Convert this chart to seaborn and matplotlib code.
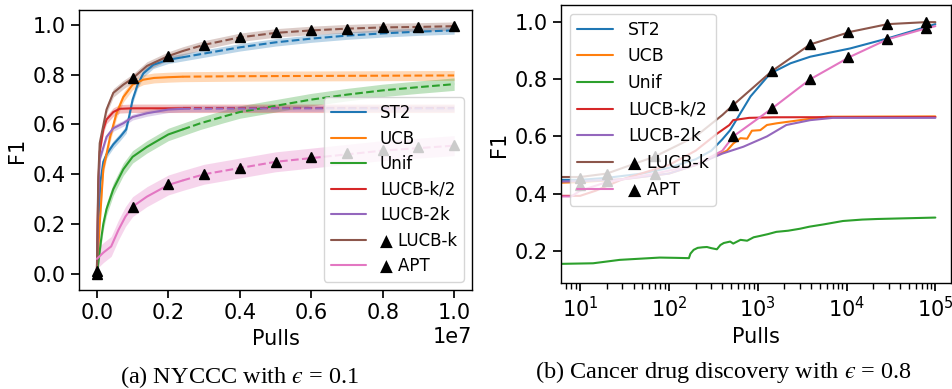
import matplotlib
matplotlib.use("Agg")
import numpy as np
import matplotlib.pyplot as plt
from matplotlib.lines import Line2D
import seaborn as sns

sns.set_theme(style="ticks", palette="tab10")
plt.rcParams['font.family'] = ['DejaVu Sans']
plt.rcParams.update({'text.color': 'black', 'axes.labelcolor': 'black',
                     'xtick.color': 'black', 'ytick.color': 'black'})

methods = ['ST2', 'UCB', 'Unif', 'LUCB-k/2', 'LUCB-2k', 'LUCB-k', 'APT']
legend_labels = ['ST2', 'UCB', 'Unif', 'LUCB-k/2', 'LUCB-2k', '▲ LUCB-k', '▲ APT']
colors = sns.color_palette("tab10", 7)

# ---- (a) NYCCC, pulls in units of 1e7 ----
nyc_st2_x = [0, 0.004, 0.01, 0.018, 0.027, 0.046, 0.065, 0.082, 0.09, 0.1, 0.114, 0.13, 0.158, 0.2, 0.24,
             0.3, 0.4, 0.5, 0.6, 0.7, 0.8, 0.9, 1.0]
nyc_st2_y = [0, 0.2, 0.37, 0.45, 0.48, 0.52, 0.55, 0.58, 0.63, 0.7, 0.76, 0.805, 0.84, 0.86, 0.87,
             0.885, 0.91, 0.93, 0.945, 0.957, 0.966, 0.973, 0.978]
nyc_ucb_x = [0, 0.008, 0.018, 0.037, 0.055, 0.074, 0.1, 0.13, 0.16, 0.2, 0.24, 0.4, 0.6, 0.8, 1.0]
nyc_ucb_y = [0, 0.2, 0.42, 0.55, 0.645, 0.71, 0.76, 0.78, 0.787, 0.79, 0.792, 0.794, 0.795, 0.796, 0.797]
nyc_unif_x = [0, 0.004, 0.013, 0.018, 0.027, 0.046, 0.074, 0.1, 0.14, 0.2, 0.24, 0.29, 0.35, 0.4, 0.5,
              0.6, 0.7, 0.8, 0.9, 1.0]
nyc_unif_y = [0.0, 0.045, 0.15, 0.2, 0.26, 0.34, 0.42, 0.47, 0.51, 0.56, 0.58, 0.605, 0.63, 0.65, 0.675,
              0.7, 0.72, 0.737, 0.75, 0.762]
nyc_k2_x = [0, 0.004, 0.008, 0.018, 0.027, 0.046, 0.064, 0.1, 0.24, 0.5, 1.0]
nyc_k2_y = [0, 0.35, 0.49, 0.58, 0.62, 0.65, 0.663, 0.665, 0.665, 0.665, 0.665]
nyc_2k_x = [0, 0.004, 0.008, 0.027, 0.046, 0.074, 0.1, 0.14, 0.2, 0.24, 0.5, 1.0]
nyc_2k_y = [0, 0.3, 0.46, 0.55, 0.585, 0.605, 0.63, 0.645, 0.66, 0.663, 0.665, 0.665]
nyc_k_x = [0, 0.004, 0.008, 0.027, 0.046, 0.074, 0.1, 0.14, 0.2, 0.24, 0.3, 0.4, 0.5, 0.6, 0.7, 0.8, 0.9, 1.0]
nyc_k_y = [0.01, 0.39, 0.525, 0.66, 0.727, 0.76, 0.785, 0.835, 0.875, 0.895, 0.92, 0.95, 0.968, 0.978,
           0.985, 0.99, 0.992, 0.995]
nyc_apt_x = [0, 0.018, 0.04, 0.06, 0.08, 0.1, 0.14, 0.2, 0.24, 0.3, 0.4, 0.5, 0.6, 0.7, 0.8, 0.9, 1.0]
nyc_apt_y = [0.06, 0.085, 0.11, 0.175, 0.23, 0.27, 0.31, 0.357, 0.375, 0.4, 0.425, 0.45, 0.465, 0.48,
             0.495, 0.505, 0.515]
nyc_band = [0.015, 0.02, 0.025, 0.017, 0.012, 0.017, 0.04]

nyc_marker_x = [0, 0.1, 0.2, 0.3, 0.4, 0.5, 0.6, 0.7, 0.8, 0.9, 1.0]
nyc_k_marker_y = [0.01, 0.785, 0.875, 0.92, 0.95, 0.97, 0.98, 0.985, 0.99, 0.99, 0.995]
nyc_apt_marker_y = [0.0, 0.27, 0.36, 0.4, 0.425, 0.45, 0.468, 0.485, 0.498, 0.508, 0.517]
nyc_solid_end = 0.24

# ---- (b) Cancer drug discovery ----
cd_st2_x = [6.1, 10, 20, 50, 100, 200, 300, 400, 490, 830, 1380, 2340, 3900, 1.1e4, 2.9e4, 1e5]
cd_st2_y = [0.448, 0.448, 0.455, 0.47, 0.49, 0.52, 0.55, 0.59, 0.622, 0.74, 0.82, 0.856, 0.879, 0.908,
            0.943, 0.993]
cd_ucb_x = [6.1, 10, 30, 100, 200, 450, 530, 640, 760, 860, 1070, 1270, 1640, 3000, 6000, 1e5]
cd_ucb_y = [0.438, 0.44, 0.45, 0.47, 0.5, 0.55, 0.575, 0.594, 0.592, 0.62, 0.622, 0.64, 0.646, 0.657,
            0.669, 0.67]
cd_unif_x = [6.1, 14, 28, 79, 120, 168, 175, 190, 211, 240, 268, 300, 347, 380, 415, 490, 530, 640, 760,
             900, 1070, 1300, 1620, 2200, 3000, 3800, 5500, 9100, 1.5e4, 2.2e4, 4e4, 1e5]
cd_unif_y = [0.154, 0.156, 0.168, 0.176, 0.175, 0.174, 0.19, 0.203, 0.21, 0.212, 0.213, 0.209, 0.205,
             0.22, 0.227, 0.232, 0.225, 0.238, 0.235, 0.247, 0.252, 0.258, 0.266, 0.27, 0.277, 0.284,
             0.292, 0.304, 0.309, 0.311, 0.313, 0.316]
cd_k2_x = [6.1, 10, 15, 30, 100, 200, 350, 480, 530, 800, 1500, 1e5]
cd_k2_y = [0.392, 0.392, 0.41, 0.45, 0.5, 0.55, 0.61, 0.64, 0.657, 0.665, 0.667, 0.668]
cd_2k_x = [6.1, 10, 30, 100, 200, 400, 690, 1270, 2100, 3900, 7000, 1e5]
cd_2k_y = [0.442, 0.443, 0.45, 0.47, 0.5, 0.54, 0.564, 0.6, 0.64, 0.657, 0.665, 0.665]
cd_k_x = [6.1, 10, 20, 70, 200, 400, 530, 1450, 3900, 1.1e4, 2.9e4, 7.8e4, 1e5]
cd_k_y = [0.458, 0.458, 0.47, 0.53, 0.6, 0.675, 0.71, 0.829, 0.922, 0.966, 0.993, 1.0, 1.0]
cd_apt_x = [6.1, 8, 10, 20, 70, 200, 400, 530, 1450, 3900, 1.1e4, 2.9e4, 7.8e4, 1e5]
cd_apt_y = [0.39, 0.39, 0.41, 0.44, 0.47, 0.5, 0.55, 0.6, 0.698, 0.8, 0.879, 0.94, 0.978, 0.986]

cd_marker_x = [10, 20, 70, 530, 1430, 3860, 1.05e4, 2.85e4, 7.8e4]
cd_k_marker_y = [0.455, 0.47, 0.53, 0.71, 0.829, 0.922, 0.966, 0.993, 1.0]
cd_apt_marker_y = [0.43, 0.445, 0.47, 0.60, 0.698, 0.80, 0.879, 0.94, 0.978]

nyc_series = [(nyc_st2_x, nyc_st2_y), (nyc_ucb_x, nyc_ucb_y), (nyc_unif_x, nyc_unif_y),
              (nyc_k2_x, nyc_k2_y), (nyc_2k_x, nyc_2k_y), (nyc_k_x, nyc_k_y), (nyc_apt_x, nyc_apt_y)]
cd_series = [(cd_st2_x, cd_st2_y), (cd_ucb_x, cd_ucb_y), (cd_unif_x, cd_unif_y),
             (cd_k2_x, cd_k2_y), (cd_2k_x, cd_2k_y), (cd_k_x, cd_k_y), (cd_apt_x, cd_apt_y)]

W, H = 952, 389
fig = plt.figure(figsize=(W / 100, H / 100), dpi=100)
ax1 = fig.add_axes([79 / W, (H - 290) / H, (472 - 79) / W, 280 / H])
ax2 = fig.add_axes([561 / W, (H - 283) / H, (951 - 561) / W, 278 / H])

tick_fs = 15
label_fs = 15
lw = 1.5

# left panel: solid where observed, dashed beyond, shaded band
for (xs, ys), c, band in zip(nyc_series, colors, nyc_band):
    x = np.array(xs) * 1e7
    y = np.array(ys)
    ax1.fill_between(x, y - band, y + band, color=c, alpha=0.3, linewidth=0)
    solid = x <= nyc_solid_end * 1e7
    dashed = x >= nyc_solid_end * 1e7
    sns.lineplot(x=x[solid], y=y[solid], ax=ax1, color=c, linewidth=lw, errorbar=None)
    sns.lineplot(x=x[dashed], y=y[dashed], ax=ax1, color=c, linewidth=lw, linestyle='--', errorbar=None)

mx = np.array(nyc_marker_x) * 1e7
ax1.plot(mx, nyc_k_marker_y, '^', color='black', markersize=7, zorder=3)
ax1.plot(mx, nyc_apt_marker_y, '^', color='black', markersize=7, zorder=3)

ax1.set_xlim(-0.05e7, 1.05e7)
ax1.set_ylim(-0.065, 1.06)
ax1.set_xticks(np.arange(0, 1.01, 0.2) * 1e7)
ax1.set_yticks(np.arange(0, 1.01, 0.2))
ax1.set_xlabel('Pulls', fontsize=label_fs)
ax1.set_ylabel('F1', fontsize=label_fs)
ax1.tick_params(labelsize=tick_fs)
ax1.xaxis.get_offset_text().set_fontsize(tick_fs)

# right panel: log-scaled pulls
for (xs, ys), c in zip(cd_series, colors):
    sns.lineplot(x=xs, y=ys, ax=ax2, color=c, linewidth=lw, errorbar=None)
ax2.plot(cd_marker_x, cd_k_marker_y, '^', color='black', markersize=7, zorder=3)
ax2.plot(cd_marker_x, cd_apt_marker_y, '^', color='black', markersize=7, zorder=3)
ax2.set_xscale('log')
ax2.set_xlim(6.1, 1.5e5)
ax2.set_ylim(0.087, 1.06)
ax2.set_yticks([0.2, 0.4, 0.6, 0.8, 1.0])
ax2.set_xlabel('Pulls', fontsize=label_fs)
ax2.set_ylabel('F1', fontsize=label_fs)
ax2.tick_params(labelsize=tick_fs)

for ax in (ax1, ax2):
    for s in ax.spines.values():
        s.set_color('black')
        s.set_linewidth(1.0)

handles = [Line2D([], [], color=c, linewidth=lw) for c in colors]
ax1.legend(handles, legend_labels, loc='lower right', fontsize=12, handlelength=2.1,
           handletextpad=0.85, labelspacing=0.45, frameon=True, framealpha=0.8)
ax2.legend(handles, legend_labels, loc='upper left', fontsize=12.5, handlelength=2.1,
           handletextpad=0.85, labelspacing=0.5, frameon=True, framealpha=0.8)

cap = dict(ha='center', va='center', fontsize=17.5,
           family=['Liberation Serif', 'STIXGeneral', 'DejaVu Serif'], math_fontfamily='stix')
fig.text(240 / W, 1 - 377 / H, '(a) NYCCC with $\u03f5$ = 0.1', **cap)
fig.text(723 / W, 1 - 372 / H, '(b) Cancer drug discovery with $\u03f5$ = 0.8', **cap)

fig.savefig('out.png', dpi=100)
